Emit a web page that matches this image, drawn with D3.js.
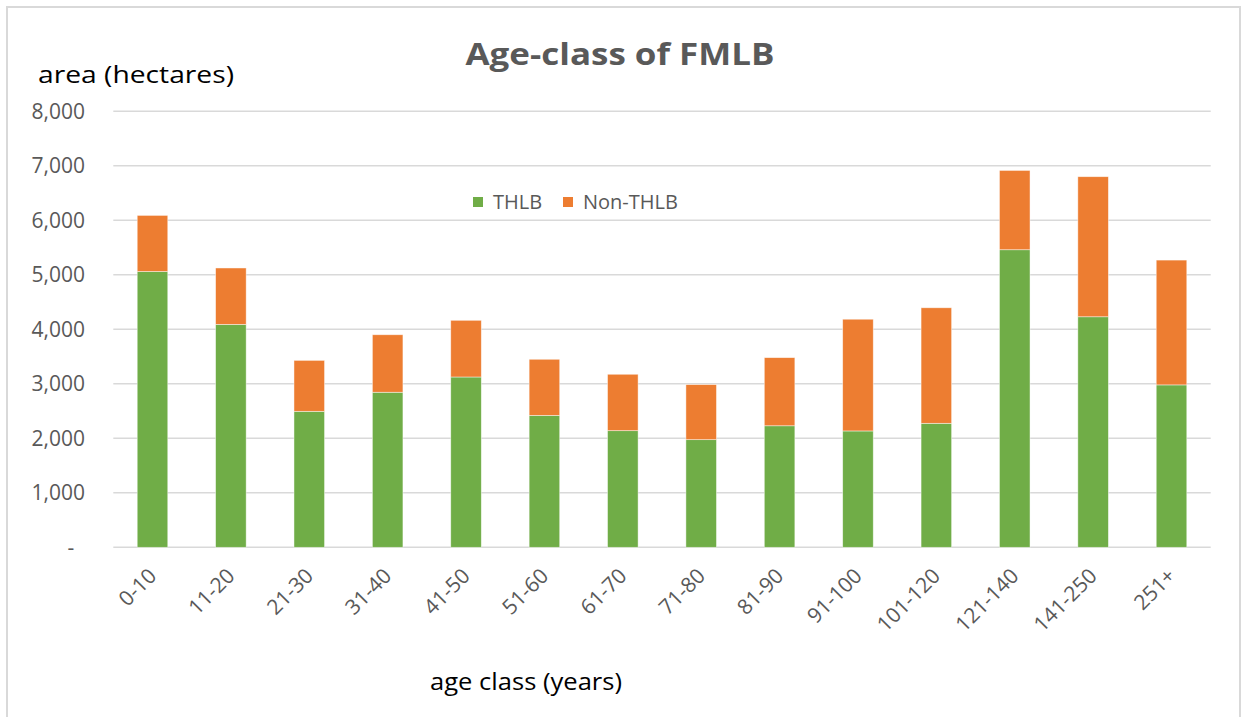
<!DOCTYPE html>
<html>
<head>
<meta charset="utf-8">
<script src="https://cdn.jsdelivr.net/npm/d3@7"></script>
<style>
  body { margin: 0; background: #fff; }
  text { font-family: "Open Sans", "Noto Sans", sans-serif; }
</style>
</head>
<body>
<svg id="chart" width="1243" height="717"></svg>
<script>
// age classes and stacked areas (hectares)
var ageClasses = ["0-10", "11-20", "21-30", "31-40", "41-50", "51-60", "61-70",
  "71-80", "81-90", "91-100", "101-120", "121-140", "141-250", "251+"];
var thlb = [5060, 4090, 2495, 2845, 3125, 2420, 2140, 1975, 2230, 2135, 2275, 5460, 4230, 2980];
var nonThlb = [1030, 1035, 935, 1055, 1040, 1030, 1035, 1010, 1250, 2050, 2120, 1455, 2570, 2290];
var seriesNames = ["THLB", "Non-THLB"];
var yTicks = [0, 1000, 2000, 3000, 4000, 5000, 6000, 7000, 8000];

var colors = { "THLB": "#70AD47", "Non-THLB": "#ED7D31" };
var textGray = "#595959";

var svg = d3.select("#chart");

// chart border
svg.append("rect")
  .attr("x", 7).attr("y", 7)
  .attr("width", 1233).attr("height", 720)
  .attr("fill", "none")
  .attr("stroke", "#D9D9D9")
  .attr("stroke-width", 2);

var plot = { left: 113.3, right: 1210.7, top: 111.3, bottom: 547.3 };

var x = d3.scaleBand()
  .domain(ageClasses)
  .range([plot.left, plot.right])
  .paddingInner(0.61)
  .paddingOuter(0.305);

var y = d3.scaleLinear()
  .domain([0, 8000])
  .range([plot.bottom, plot.top]);

// gridlines
svg.append("g").selectAll("line")
  .data(yTicks)
  .enter().append("line")
  .attr("x1", plot.left).attr("x2", plot.right)
  .attr("y1", function(d) { return y(d); })
  .attr("y2", function(d) { return y(d); })
  .attr("stroke", "#D9D9D9")
  .attr("stroke-width", 1.5);

// y tick labels
var fmt = d3.format(",");
svg.append("g").selectAll("text")
  .data(yTicks)
  .enter().append("text")
  .attr("x", 85)
  .attr("y", function(d) { return y(d); })
  .attr("dy", "0.35em")
  .attr("text-anchor", function(d) { return d === 0 ? "middle" : "end"; })
  .attr("dx", function(d) { return d === 0 ? -14 : 0; })
  .attr("font-size", 21)
  .attr("fill", textGray)
  .text(function(d) { return d === 0 ? "-" : fmt(d); });

// stacked bars
var rows = ageClasses.map(function(c, i) {
  return { age: c, "THLB": thlb[i], "Non-THLB": nonThlb[i] };
});
var stacked = d3.stack().keys(seriesNames)(rows);

svg.append("g").selectAll("g")
  .data(stacked)
  .enter().append("g")
  .attr("fill", function(s) { return colors[s.key]; })
  .selectAll("rect")
  .data(function(s) { return s; })
  .enter().append("rect")
  .attr("x", function(d) { return x(d.data.age); })
  .attr("width", x.bandwidth())
  .attr("y", function(d) { return y(d[1]); })
  .attr("height", function(d) { return y(d[0]) - y(d[1]); })
  .attr("stroke", "#fff")
  .attr("stroke-opacity", 0.6)
  .attr("stroke-width", 0.75);

// x tick labels, rotated
svg.append("g").selectAll("text")
  .data(ageClasses)
  .enter().append("text")
  .attr("transform", function(d) {
    return "translate(" + (x(d) + x.bandwidth() / 2) + ",572) rotate(-45)";
  })
  .attr("text-anchor", "end")
  .attr("dy", "0.35em")
  .attr("font-size", 21)
  .attr("fill", textGray)
  .text(function(d) { return d; });

// title
svg.append("text")
  .attr("x", 620).attr("y", 65)
  .attr("text-anchor", "middle")
  .attr("font-size", 30)
  .attr("font-weight", "bold")
  .attr("fill", textGray)
  .attr("textLength", 309)
  .attr("lengthAdjust", "spacingAndGlyphs")
  .text("Age-class of FMLB");

// axis titles
svg.append("text")
  .attr("x", 38).attr("y", 83)
  .attr("font-size", 24)
  .attr("fill", "#000")
  .attr("textLength", 196)
  .attr("lengthAdjust", "spacingAndGlyphs")
  .text("area (hectares)");

svg.append("text")
  .attr("x", 430).attr("y", 690)
  .attr("font-size", 24)
  .attr("fill", "#000")
  .attr("textLength", 192)
  .attr("lengthAdjust", "spacingAndGlyphs")
  .text("age class (years)");

// legend
var legend = svg.append("g").attr("transform", "translate(473,197)");
var legendX = [0, 90];
seriesNames.forEach(function(name, i) {
  var g = legend.append("g").attr("transform", "translate(" + legendX[i] + ",0)");
  g.append("rect")
    .attr("width", 10).attr("height", 10)
    .attr("fill", colors[name]);
  g.append("text")
    .attr("x", 20).attr("y", 5)
    .attr("dy", "0.35em")
    .attr("font-size", 20)
    .attr("fill", textGray)
    .text(name);
});
</script>
</body>
</html>
